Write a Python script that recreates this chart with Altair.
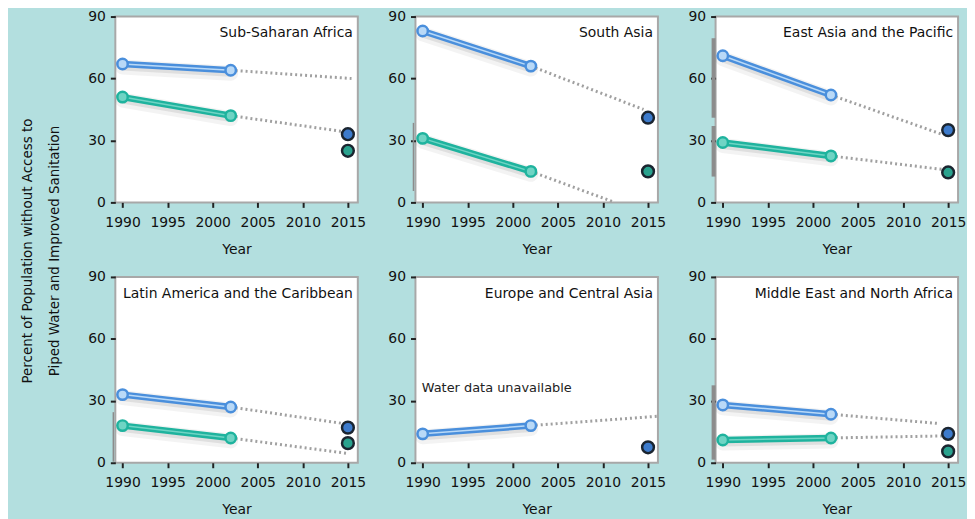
import altair as alt
import pandas as pd

# ---------------- data ----------------
regions = ["Sub-Saharan Africa", "South Asia", "East Asia and the Pacific",
           "Latin America and the Caribbean", "Europe and Central Asia",
           "Middle East and North Africa"]
obs_years = [1990, 2002]
target_year = 2015
x_ticks = [1990, 1995, 2000, 2005, 2010, 2015]
y_ticks = [0, 30, 60, 90]

# sanitation (blue)
san_1990 = [67, 83, 71, 33, 14, 28]
san_2002 = [64, 66, 52, 27, 18, 23.5]
san_trend_end_year = [2015.4, 2014.5, 2014.3, 2014.5, 2016.0, 2014.0]
san_trend_end = [60, 45, 33, 19, 22.5, 19]
san_target = [33, 41, 35, 17, 7.5, 14]

# water (green)
water_1990 = [51, 31, 29, 18, None, 11]
water_2002 = [42, 15, 22.5, 12, None, 12]
water_trend_end_year = [2015.0, 2011.3, 2014.3, 2015.0, None, 2014.5]
water_trend_end = [34, 0, 16, 4.5, None, 13]
water_target = [25, 15, 14.5, 9.5, None, 5.5]

# grey range bars drawn along the left axis
bar_panel = [1, 2, 2, 3, 5]
bar_top = [38.5, 79.5, 37, 24.5, 37.5]
bar_bottom = [5.5, 41, 12.5, 0.5, 1.5]
bar_width = [1.5, 4, 4, 1.5, 4]

notes_panel = [4]
notes_text = ["Water data unavailable"]
notes_year = [1989.9]
notes_value = [36]

y_title_lines = ["Percent of Population without Access to",
                 "Piped Water and Improved Sanitation"]

# ---------------- styling ----------------
BG = "#b3dfdf"
SAN = "#4a8fdc"
SAN_IN = "#b9d9f7"
SAN_DOT = "#3d7bcc"
WAT = "#1fb39e"
WAT_IN = "#6fd4c4"
WAT_DOT = "#2aa28e"
FONT = "DejaVu Sans"
PW, PH = 244, 187

xs = alt.Scale(domain=[1989.2, 2016.1], nice=False, zero=False)
ys = alt.Scale(domain=[0, 90], nice=False)
X = alt.X("year:Q", scale=xs, axis=alt.Axis(values=x_ticks, format="d", title="Year"))
Y = alt.Y("value:Q", scale=ys, axis=alt.Axis(values=y_ticks, title=None))


def series_layers(y0, y1, ty, tv, tgt, col, col_in, col_dot):
    obs = pd.DataFrame({"year": obs_years, "value": [y0, y1]})
    trend = pd.DataFrame({"year": [obs_years[1], ty], "value": [y1, tv]})
    target = pd.DataFrame({"year": [target_year], "value": [tgt]})
    base = alt.Chart(obs)
    shadow1 = base.mark_line(color="#555", strokeWidth=15, opacity=0.07, yOffset=3, strokeCap="round").encode(x=X, y=Y)
    shadow2 = base.mark_line(color="#555", strokeWidth=9, opacity=0.12, yOffset=2, strokeCap="round").encode(x=X, y=Y)
    dotted = alt.Chart(trend).mark_line(color="#a0a0a0", strokeWidth=3, strokeDash=[2, 3]).encode(x=X, y=Y)
    outer = base.mark_line(color=col, strokeWidth=6.5).encode(x=X, y=Y)
    inner = base.mark_line(color=col_in, strokeWidth=1.5).encode(x=X, y=Y)
    pts = base.mark_point(shape="circle", filled=True, fill=col_in, stroke=col, strokeWidth=2.5,
                          size=110, opacity=1).encode(x=X, y=Y)
    tg = alt.Chart(target).mark_point(shape="circle", filled=True, fill=col_dot, stroke="#1b2530",
                                      strokeWidth=2.5, size=140, opacity=1).encode(x=X, y=Y)
    return [shadow1, shadow2, dotted, outer, inner, pts, tg]


def panel(i):
    layers = []
    idx = [k for k, p in enumerate(bar_panel) if p == i]
    if idx:
        bars = pd.DataFrame({"value": [bar_top[k] for k in idx],
                             "value2": [bar_bottom[k] for k in idx],
                             "w": [bar_width[k] for k in idx]})
        layers.append(alt.Chart(bars).mark_rule(color="#8c8c8c").encode(
            x=alt.value(-2), y=alt.Y("value:Q", scale=ys, axis=alt.Axis(values=y_ticks, title=None)),
            y2="value2:Q", strokeWidth=alt.StrokeWidth("w:Q", scale=None)))
    if water_1990[i] is not None:
        layers += series_layers(water_1990[i], water_2002[i], water_trend_end_year[i], water_trend_end[i],
                                water_target[i], WAT, WAT_IN, WAT_DOT)
    layers += series_layers(san_1990[i], san_2002[i], san_trend_end_year[i], san_trend_end[i],
                            san_target[i], SAN, SAN_IN, SAN_DOT)
    title = alt.Chart(pd.DataFrame({"label": [regions[i]]})).mark_text(
        align="right", baseline="middle", fontSize=14, font=FONT, color="#111").encode(
        x=alt.value(PW - 5), y=alt.value(17), text="label:N")
    layers.append(title)
    for k, p in enumerate(notes_panel):
        if p == i:
            nd = pd.DataFrame({"year": [notes_year[k]], "value": [notes_value[k]], "t": [notes_text[k]]})
            layers.append(alt.Chart(nd).mark_text(align="left", baseline="middle", fontSize=13,
                                                  font=FONT, color="#222").encode(x=X, y=Y, text="t:N"))
    return alt.layer(*layers).properties(width=PW, height=PH)


row1 = alt.hconcat(panel(0), panel(1), panel(2), spacing=20)
row2 = alt.hconcat(panel(3), panel(4), panel(5), spacing=20)
grid = alt.vconcat(row1, row2, spacing=12)

t1 = alt.Chart(pd.DataFrame({"t": [y_title_lines[0]]})).mark_text(
    angle=270, fontSize=13.5, font=FONT, color="#111", baseline="middle").encode(
    x=alt.value(20), y=alt.value(236), text="t:N")
t2 = alt.Chart(pd.DataFrame({"t": [y_title_lines[1]]})).mark_text(
    angle=270, fontSize=13.5, font=FONT, color="#111", baseline="middle").encode(
    x=alt.value(47), y=alt.value(236), text="t:N")
ytitle = alt.layer(t1, t2).properties(width=60, height=400,
                                      view=alt.ViewBackground(fillOpacity=0, strokeOpacity=0))

chart = alt.hconcat(ytitle, grid, spacing=19).properties(
    padding={"left": 0, "top": -7, "right": 0, "bottom": 0}
).configure(background=BG, font=FONT).configure_view(
    fill="white", stroke="#a8a8a8", strokeWidth=2
).configure_axis(
    domain=False, grid=False, labelFont=FONT, labelFontSize=14, labelColor="#111",
    tickColor="#222", tickSize=5, tickWidth=2, titleFont=FONT, titleFontSize=14,
    titleFontWeight="normal", titleColor="#111", labelPadding=5
).configure_axisX(labelPadding=8, titlePadding=13)

chart.save("out.html", embed_options={"renderer": "svg", "actions": False})
